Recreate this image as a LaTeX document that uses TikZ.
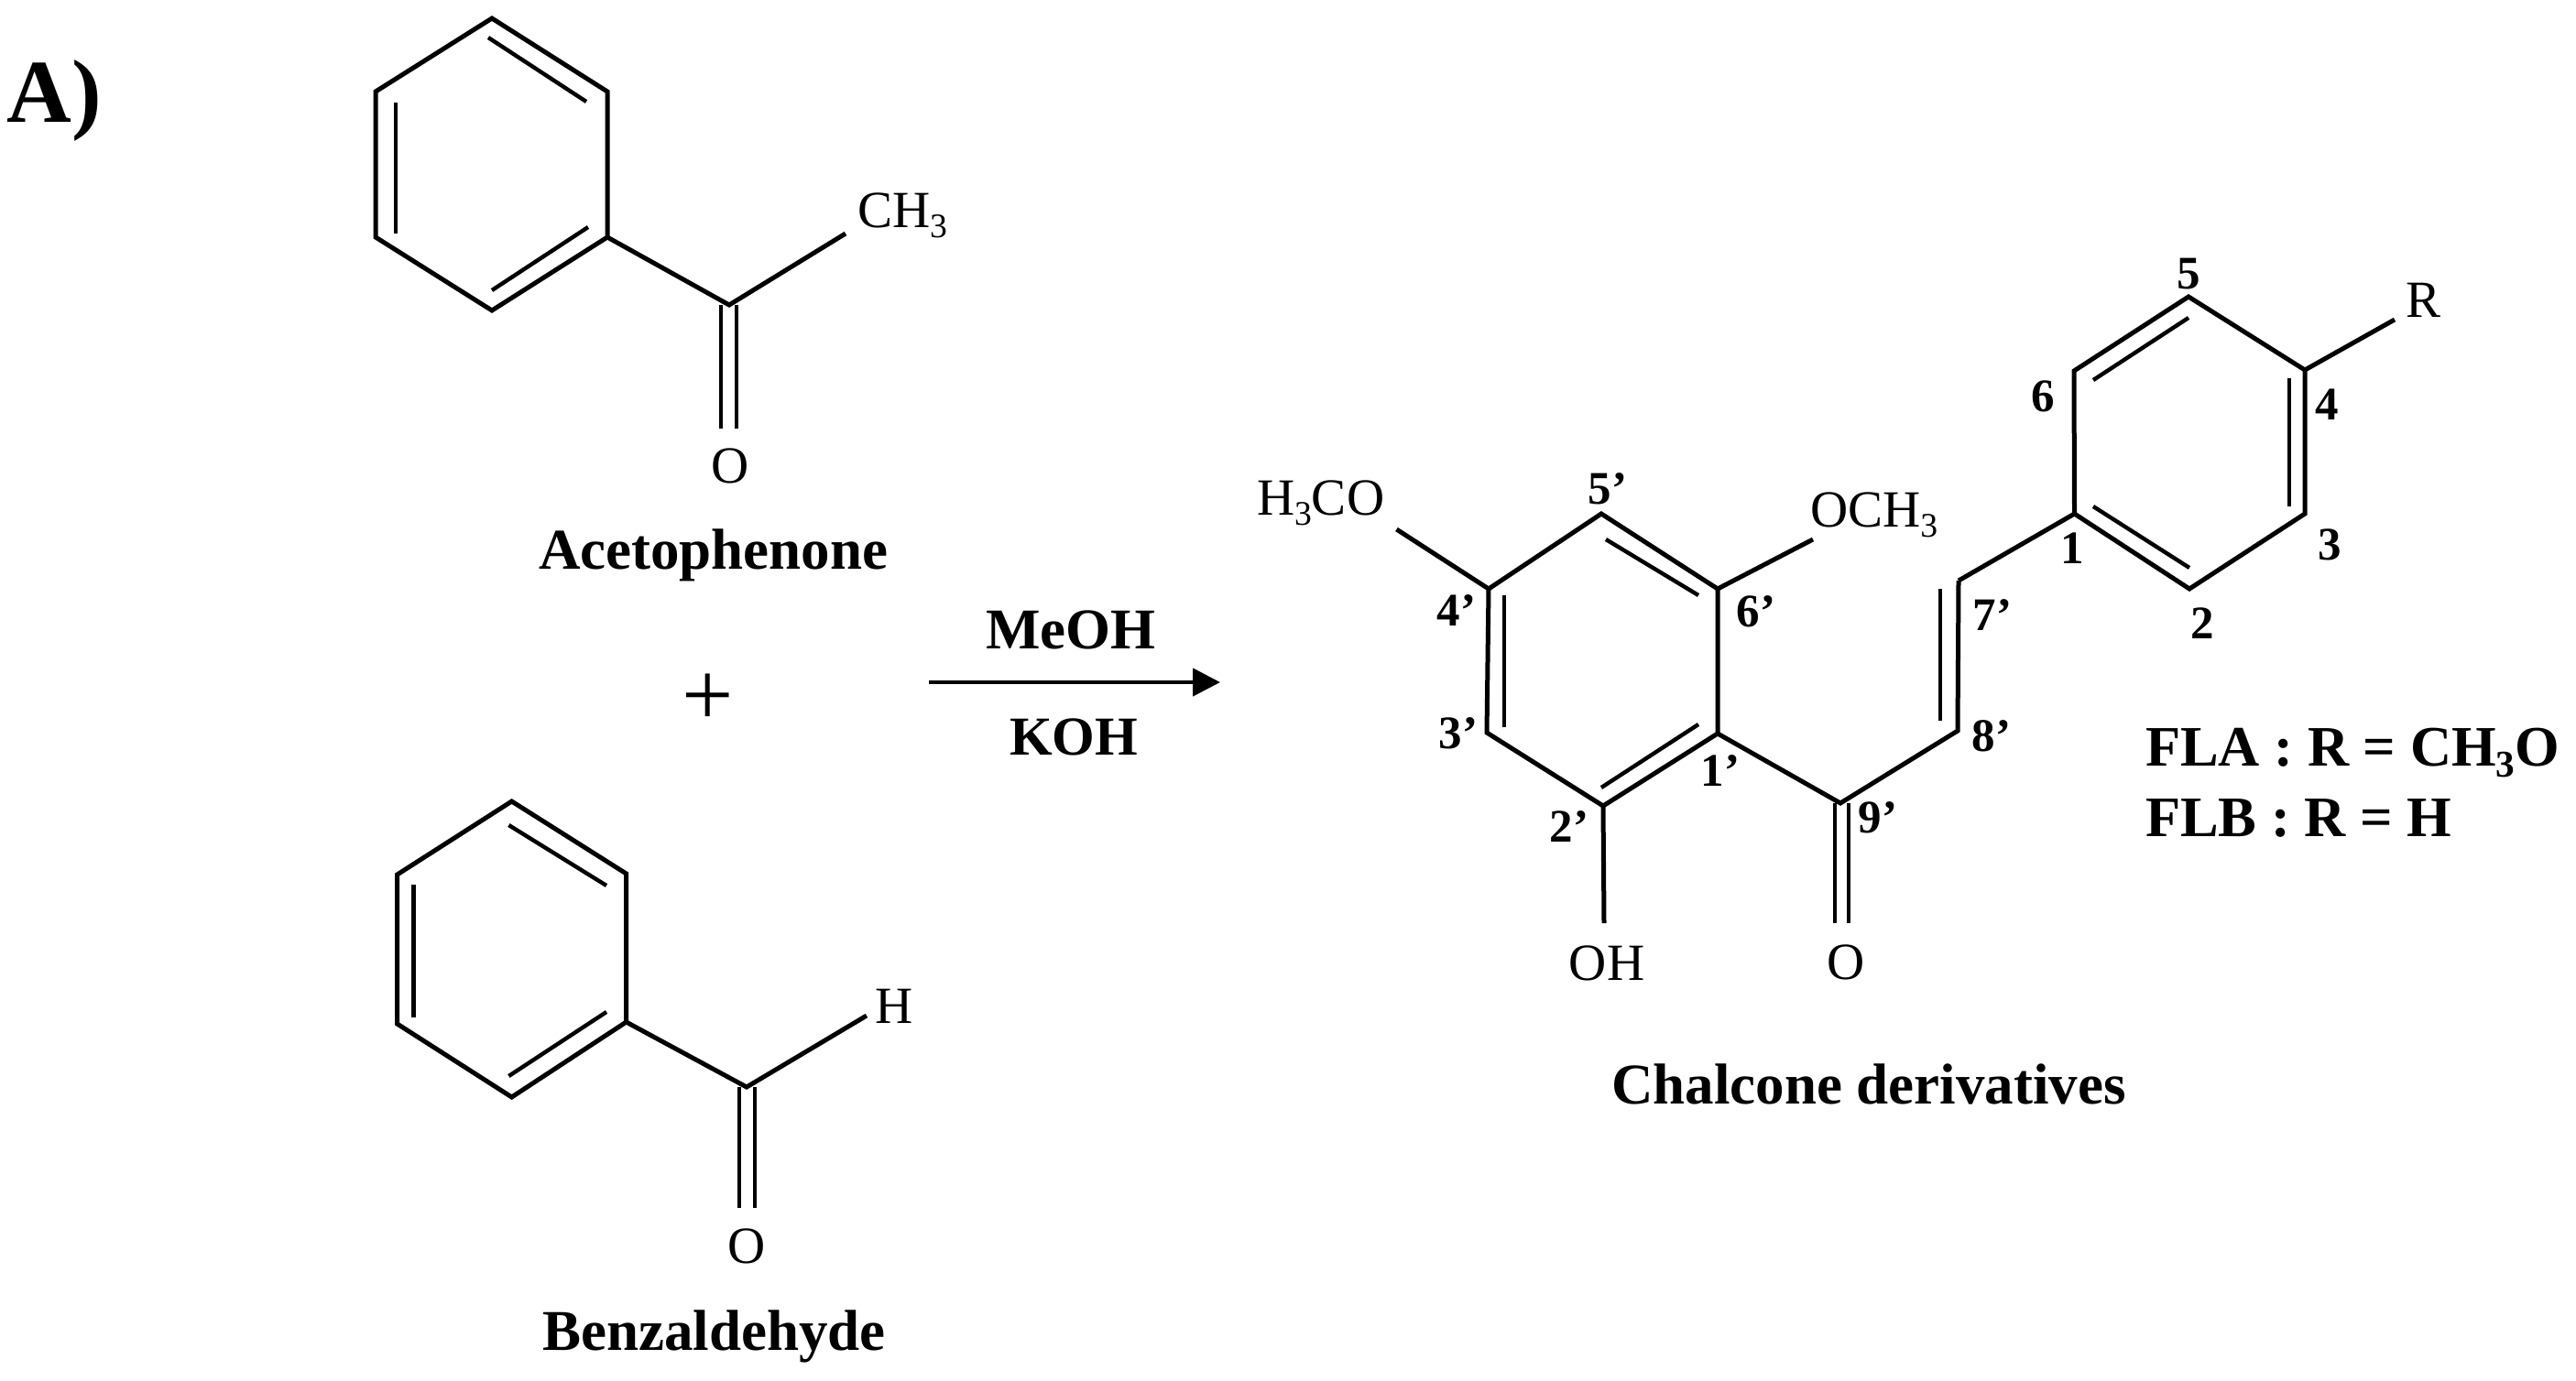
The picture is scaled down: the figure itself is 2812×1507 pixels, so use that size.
\documentclass[tikz,border=0pt]{standalone}
\usepackage{fontspec}
\setmainfont{Liberation Serif}
\usetikzlibrary{arrows.meta}
\tikzset{
  x=1pt,y=-1pt,
  bond/.style={line width=5pt,black,line cap=butt,line join=miter},
  inner bond/.style={line width=4.4pt,black,line cap=butt},
  lbl/.style={inner sep=0pt,outer sep=0pt,font=\fontsize{57}{60}\selectfont},
  num/.style={inner sep=0pt,outer sep=0pt,font=\fontsize{51}{54}\selectfont\bfseries},
  title/.style={inner sep=0pt,outer sep=0pt,anchor=base west,font=\fontsize{63}{68}\selectfont\bfseries},
}
\newcommand{\ssub}[1]{\raisebox{-0.2em}{\fontsize{0.66em}{0.7em}\selectfont #1}}
\begin{document}
\begin{tikzpicture}
\useasboundingbox (0,0) rectangle (2812,1507);
\fill[white] (0,0) rectangle (2812,1507);
\node[title,font=\fontsize{98}{100}\selectfont\bfseries] (panel) at (8,133) {A)};
% Acetophenone
\coordinate (a1) at (537,20);\coordinate (a2) at (663,100);\coordinate (a3) at (663,259);
\coordinate (a4) at (537,339);\coordinate (a5) at (410,259);\coordinate (a6) at (410,100);
\coordinate (ac) at (796,333);\coordinate (am) at (923,255);
\draw[bond] (a1)--(a2)--(a3)--(a4)--(a5)--(a6)--cycle;
\draw[inner bond] (533,41)--(640,111);
\draw[inner bond] (432,112)--(432,255);
\draw[inner bond] (537,317)--(642,248);
\draw[bond] (a3)--(ac)--(am);
\coordinate (ao1) at (787,468);\coordinate (ao2) at (804,468);
\draw[inner bond] (787,333)--(ao1);
\draw[inner bond] (804,333)--(ao2);
\node[lbl,anchor=base west] (ach3) at (936,248) {CH\ssub{3}};
\node[lbl] (ao) at (797,509) {O};
\node[title] (acn) at (588,621) {Acetophenone};
% plus
\node[inner sep=0pt,font=\fontsize{100}{100}\selectfont] (plus) at (773,764) {+};
% Benzaldehyde
\coordinate (b1) at (558.6,875);\coordinate (b2) at (683.6,954);\coordinate (b3) at (683.6,1116);
\coordinate (b4) at (558.6,1198);\coordinate (b5) at (433.6,1118);\coordinate (b6) at (433.6,955);
\coordinate (bc) at (815,1187);\coordinate (bh) at (946,1109);
\draw[bond] (b1)--(b2)--(b3)--(b4)--(b5)--(b6)--cycle;
\draw[inner bond] (555.4,901)--(662,967);
\draw[inner bond] (451.4,966)--(451.4,1111);
\draw[inner bond] (555.4,1175)--(662,1105);
\draw[bond] (b3)--(bc)--(bh);
\coordinate (bo1) at (807,1319);\coordinate (bo2) at (824,1319);
\draw[inner bond] (807,1187)--(bo1);
\draw[inner bond] (824,1187)--(bo2);
\node[lbl] (bho) at (976,1099) {H};
\node[lbl] (bo) at (815,1361) {O};
\node[title] (bzn) at (592,1474) {Benzaldehyde};
% Arrow
\node[title] (meoh) at (1076,708) {MeOH};
\node[title,font=\fontsize{60}{66}\selectfont\bfseries] (koh) at (1102,824) {KOH};
\coordinate (arr1) at (1014,745);\coordinate (arr2) at (1332,745);
\draw[line width=4.5pt,-{Triangle[length=30pt,width=30pt]}] (arr1)--(arr2);
% Chalcone left ring
\coordinate (c5p) at (1748,561);\coordinate (c6p) at (1875,643);\coordinate (c1p) at (1875,801);
\coordinate (c2p) at (1750,880);\coordinate (c3p) at (1623,800);\coordinate (c4p) at (1625,643);
\draw[bond] (c5p)--(c6p)--(c1p)--(c2p)--(c3p)--(c4p)--cycle;
\draw[inner bond] (1753,589)--(1854,650);
\draw[inner bond] (1642,650)--(1642,794);
\draw[inner bond] (1854,791)--(1748,860);
\coordinate (ocm) at (1979,589);\coordinate (mco) at (1524.5,578);\coordinate (ohb) at (1751,1008);
\draw[bond] (c6p)--(ocm);
\draw[bond] (c4p)--(mco);
\draw[bond] (c2p)--(ohb);
% chain
\coordinate (c9p) at (2009,877);\coordinate (c8p) at (2137,798);\coordinate (c7p) at (2138,634);
\draw[bond] (c1p)--(c9p)--(c8p)--(c7p);
\draw[inner bond] (2118,643)--(2118,787);
\coordinate (co1) at (2003,1008);\coordinate (co2) at (2018,1008);
\draw[inner bond] (2003,877)--(co1);
\draw[inner bond] (2018,877)--(co2);
% Right ring
\coordinate (r1) at (2264.5,561);\coordinate (r2) at (2390,643);\coordinate (r3) at (2516,561);
\coordinate (r4) at (2516,404);\coordinate (r5) at (2389,324);\coordinate (r6) at (2264,405);
\coordinate (rr) at (2614,349);
\draw[bond] (r1)--(r2)--(r3)--(r4)--(r5)--(r6)--cycle;
\draw[inner bond] (2285,553)--(2390,620);
\draw[inner bond] (2499,413)--(2499,553);
\draw[inner bond] (2285,415)--(2389,347);
\draw[bond] (c7p)--(r1);
\draw[bond] (r4)--(rr);
% substituent labels
\node[lbl,anchor=base west] (h3co) at (1372,562) {H\ssub{3}CO};
\node[lbl,anchor=base west] (och3) at (1976,575) {OCH\ssub{3}};
\node[lbl] (oh) at (1754,1052) {OH};
\node[lbl] (cro) at (2015,1051) {O};
\node[lbl] (rlab) at (2645,328) {R};
% numbering
\node[num] (n5p) at (1755,534) {5’};
\node[num] (n4p) at (1590,667) {4’};
\node[num] (n6p) at (1917,668) {6’};
\node[num] (n3p) at (1592,801) {3’};
\node[num] (n1p) at (1878,842) {1’};
\node[num] (n2p) at (1713,903) {2’};
\node[num] (n9p) at (2050,893) {9’};
\node[num] (n7p) at (2175,672) {7’};
\node[num] (n8p) at (2174,804) {8’};
\node[num] (n5) at (2389,299) {5};
\node[num] (n6) at (2230,433) {6};
\node[num] (n4) at (2540,442) {4};
\node[num] (n3) at (2543,595) {3};
\node[num] (n2) at (2404.5,681) {2};
\node[num] (n1) at (2262,599) {1};
% captions
\node[title,font=\fontsize{62.5}{68}\selectfont\bfseries] (fla) at (2342,836) {FLA : R = CH\ssub{3}O};
\node[title,font=\fontsize{62.5}{68}\selectfont\bfseries] (flb) at (2342,913) {FLB : R = H};
\node[title] (chn) at (1759,1205) {Chalcone derivatives};
\end{tikzpicture}
\end{document}
